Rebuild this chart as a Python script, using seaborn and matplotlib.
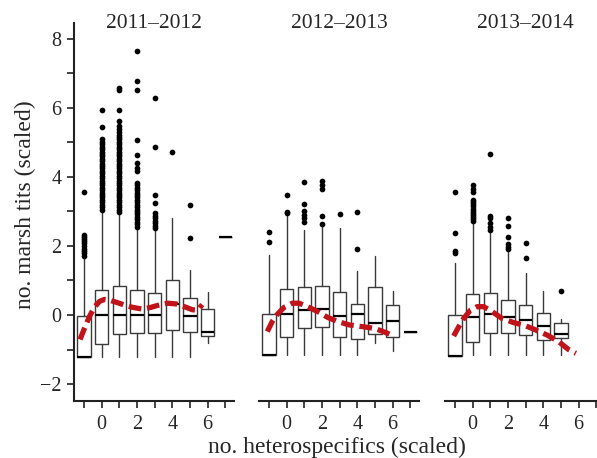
import numpy as np
import matplotlib
matplotlib.use("Agg")
import matplotlib.pyplot as plt
import seaborn as sns

# data (scaled units)
seasons = ["2011\u20132012", "2012\u20132013", "2013\u20132014"]
positions = [-1, 0, 1, 2, 3, 4, 5, 6, 7]

# 2011-2012
s1_q1 = [-1.21, -0.84, -0.56, -0.51, -0.53, -0.43, -0.48, -0.60, 2.25]
s1_med = [-1.21, 0.00, 0.00, 0.00, 0.00, 0.33, -0.03, -0.48, 2.25]
s1_q3 = [-0.03, 0.72, 0.84, 0.72, 0.63, 1.02, 0.50, 0.17, 2.25]
s1_lo = [-1.21, -1.21, -1.21, -1.21, -1.21, -1.21, -1.21, -0.82, 2.25]
s1_hi = [1.70, 3.04, 2.96, 2.55, 2.48, 2.80, 1.30, 0.66, 2.25]
s1_out = [
    [1.72, 1.78, 1.85, 1.92, 2.0, 2.07, 2.14, 2.2, 2.26, 2.32, 3.55],
    [3.05, 3.12, 3.19, 3.26, 3.33, 3.4, 3.47, 3.54, 3.61, 3.68, 3.75, 3.82, 3.89,
     3.96, 4.03, 4.1, 4.17, 4.24, 4.31, 4.38, 4.45, 4.52, 4.59, 4.66, 4.73, 4.8,
     4.87, 4.94, 5.01, 5.08, 5.43, 5.94],
    [2.98, 3.05, 3.12, 3.19, 3.26, 3.33, 3.4, 3.47, 3.54, 3.61, 3.68, 3.75, 3.82,
     3.89, 3.96, 4.03, 4.1, 4.17, 4.24, 4.31, 4.38, 4.45, 4.52, 4.59, 4.66, 4.73,
     4.8, 4.87, 4.94, 5.01, 5.08, 5.15, 5.22, 5.3, 5.38, 5.46, 5.6, 5.92, 6.5, 6.57],
    [2.56, 2.63, 2.7, 2.77, 2.84, 2.91, 2.98, 3.05, 3.12, 3.19, 3.26, 3.33, 3.4,
     3.47, 3.54, 3.61, 3.68, 3.75, 3.82, 4.18, 4.25, 4.4, 4.64, 5.07, 6.52, 6.76, 7.63],
    [2.51, 2.58, 2.65, 2.72, 2.8, 2.87, 2.95, 3.24, 3.48, 4.86, 6.28],
    [4.72],
    [2.22, 3.19],
    [],
    [],
]
s1_fit_x = [-1.23, -0.98, -0.70, -0.42, -0.13, 0.15, 0.43, 0.81, 1.28, 1.75, 2.32,
            2.79, 3.26, 3.74, 4.21, 4.68, 5.15, 5.45, 5.7]
s1_fit_y = [-0.71, -0.39, -0.05, 0.22, 0.39, 0.45, 0.43, 0.37, 0.29, 0.22, 0.17,
            0.22, 0.29, 0.34, 0.32, 0.24, 0.15, 0.14, 0.30]

# 2012-2013
s2_q1 = [-1.16, -0.63, -0.37, -0.34, -0.63, -0.71, -0.55, -0.63, -0.50]
s2_med = [-1.16, 0.02, 0.14, 0.17, -0.03, 0.03, -0.22, -0.17, -0.50]
s2_q3 = [0.02, 0.76, 0.80, 0.85, 0.66, 0.31, 0.80, 0.29, -0.50]
s2_lo = [-1.16, -1.16, -1.16, -1.16, -1.16, -1.16, -0.80, -1.03, -0.50]
s2_hi = [1.74, 2.90, 2.46, 2.60, 2.53, 1.26, 1.71, 0.70, -0.50]
s2_out = [
    [2.1, 2.39],
    [2.94, 2.98, 3.48],
    [2.7, 2.8, 2.9, 3.0, 3.2, 3.84],
    [2.64, 2.87, 3.64, 3.77, 3.88],
    [2.92],
    [1.9, 2.98],
    [],
    [],
    [],
]
s2_fit_x = [-1.10, -0.82, -0.53, -0.15, 0.32, 0.70, 1.18, 1.75, 2.32, 2.90, 3.56,
            4.32, 4.99, 5.47, 5.94]
s2_fit_y = [-0.48, -0.19, 0.02, 0.22, 0.34, 0.34, 0.24, 0.10, -0.07, -0.19, -0.29,
            -0.34, -0.39, -0.48, -0.58]

# 2013-2014 (no boxes at 6 and 7)
s3_q1 = [-1.18, -0.79, -0.53, -0.51, -0.58, -0.72, -0.66, None, None]
s3_med = [-1.18, -0.07, 0.02, -0.07, -0.14, -0.31, -0.55, None, None]
s3_q3 = [0.00, 0.60, 0.63, 0.43, 0.28, 0.05, -0.22, None, None]
s3_lo = [-1.18, -1.16, -1.16, -1.16, -1.16, -1.16, -1.16, None, None]
s3_hi = [1.50, 2.65, 2.37, 1.81, 1.21, 0.68, -0.13, None, None]
s3_out = [
    [1.8, 1.86, 2.37, 3.57],
    [2.72, 2.78, 2.84, 2.9, 2.96, 3.02, 3.08, 3.14, 3.2, 3.26, 3.32, 3.55, 3.65, 3.76],
    [2.46, 2.56, 2.66, 2.8, 2.87, 4.66],
    [1.9, 1.97, 2.05, 2.25, 2.58, 2.8],
    [1.66, 2.08],
    [],
    [0.68],
    [],
    [],
]
s3_fit_x = [-1.08, -0.79, -0.51, -0.13, 0.25, 0.62, 1.09, 1.66, 2.32, 2.98, 3.55,
            4.21, 4.87, 5.43, 5.85]
s3_fit_y = [-0.61, -0.34, -0.10, 0.14, 0.24, 0.24, 0.10, -0.10, -0.22, -0.31, -0.43,
            -0.58, -0.77, -1.00, -1.11]

panels = [
    (s1_q1, s1_med, s1_q3, s1_lo, s1_hi, s1_out, s1_fit_x, s1_fit_y),
    (s2_q1, s2_med, s2_q3, s2_lo, s2_hi, s2_out, s2_fit_x, s2_fit_y),
    (s3_q1, s3_med, s3_q3, s3_lo, s3_hi, s3_out, s3_fit_x, s3_fit_y),
]

sns.set_style("ticks")
plt.rcParams["font.family"] = ["Liberation Serif", "DejaVu Serif"]

fig = plt.figure(figsize=(5.97, 4.58), dpi=100)
W, H = 597, 458
lefts = [74, 259, 445]
box_col = "#3a3a3a"

for k, (q1, med, q3, lo, hi, outs, fx, fy) in enumerate(panels):
    ax = fig.add_axes([lefts[k] / W, 1 - 401 / H, 160 / W, 378 / H])
    stats, pos = [], []
    for i, p in enumerate(positions):
        if q1[i] is None:
            continue
        stats.append(dict(q1=q1[i], med=med[i], q3=q3[i], whislo=lo[i], whishi=hi[i], fliers=[]))
        pos.append(p)
    ax.bxp(stats, positions=pos, widths=0.75, showfliers=False, showcaps=False,
           patch_artist=True, manage_ticks=False,
           boxprops=dict(facecolor="white", edgecolor=box_col, linewidth=1.0),
           whiskerprops=dict(color=box_col, linewidth=1.0),
           medianprops=dict(color="black", linewidth=1.6))

    ox = [p for p, o in zip(positions, outs) for _ in o]
    oy = [v for o in outs for v in o]
    sns.scatterplot(x=ox, y=oy, ax=ax, color="black", s=17, linewidth=0, zorder=3)

    sns.lineplot(x=fx, y=fy, ax=ax, color="#c0141a", linewidth=3.8,
                 linestyle=(0, (2.4, 1.1)), zorder=4)
    for ln in ax.lines[-1:]:
        ln.set_dash_capstyle("butt")

    ax.set_xlim(-1.57, 7.5)
    ax.set_ylim(-2.49, 8.45)
    ax.set_xticks([0, 2, 4, 6])
    ax.set_xticks([-1, 1, 3, 5, 7], minor=True)
    ax.tick_params(axis="x", which="both", direction="out", length=5, width=1.2,
                   labelsize=14.5, pad=5, color="#222222")
    ax.spines["top"].set_visible(False)
    ax.spines["right"].set_visible(False)
    ax.spines["bottom"].set_linewidth(1.5)
    ax.spines["bottom"].set_color("#222222")
    if k == 0:
        ax.set_yticks([-2, 0, 2, 4, 6, 8])
        ax.set_yticks([-1, 1, 3, 5, 7], minor=True)
        ax.set_yticklabels(["\u22122", "0", "2", "4", "6", "8"])
        ax.tick_params(axis="y", which="both", direction="out", length=5, width=1.2,
                       labelsize=14.5, pad=4, color="#222222")
        ax.spines["left"].set_linewidth(1.5)
        ax.spines["left"].set_color("#222222")
    else:
        ax.spines["left"].set_visible(False)
        ax.set_yticks([])
    ax.set_xlabel("")
    ax.set_ylabel("")
    ax.text(0.5, 1.0, seasons[k], transform=ax.transAxes, ha="center", va="center",
            fontsize=15.5)

fig.text(337 / W, 1 - 453 / H, "no. heterospecifics (scaled)", ha="center",
         va="baseline", fontsize=17)
fig.text(25 / W, 1 - 205 / H, "no. marsh tits (scaled)", ha="center", va="center",
         rotation=90, fontsize=17)

fig.savefig("out.png", dpi=100)
